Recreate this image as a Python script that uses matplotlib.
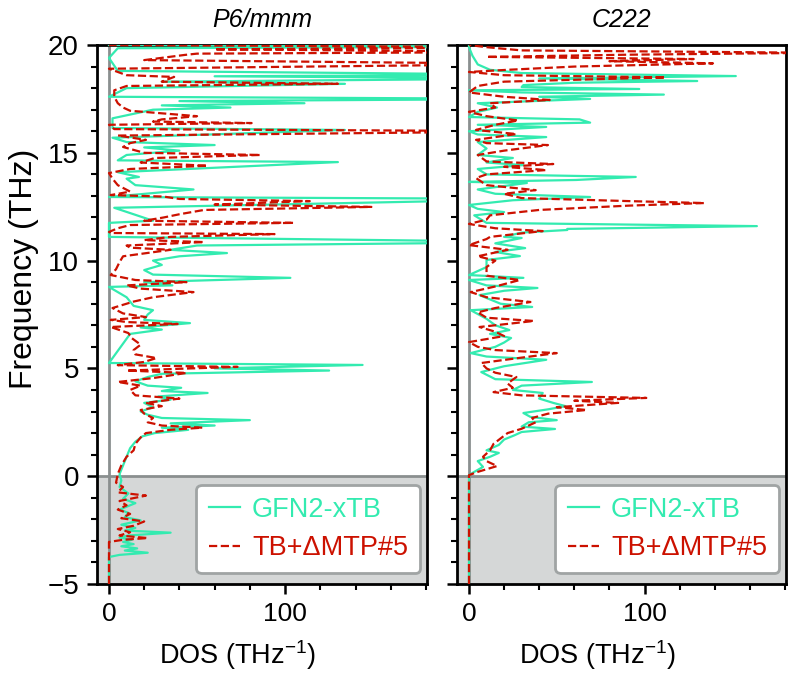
import matplotlib
matplotlib.use("Agg")
import matplotlib.pyplot as plt
from matplotlib.ticker import MultipleLocator

plt.rcParams['font.family'] = ['Liberation Sans', 'DejaVu Sans']
plt.rcParams['mathtext.default'] = 'regular'

titles = ["P6/mmm", "C222"]
series_names = ["GFN2-xTB", "TB+ΔMTP#5"]

# ---- P6/mmm : GFN2-xTB ----
p6_gfn_freq = [-5.0, -3.75, -3.65, -3.55, -3.45, -3.35, -3.25, -3.15, -3.05, -2.95, -2.85, -2.75, -2.62, -2.52, -2.4,
               -2.25, -2.05, -1.9, -1.7, -1.55, -1.25, -1.05, -0.8, -0.5, -0.2, 0.1, 0.5, 0.9, 1.3, 1.6, 1.85, 2.0,
               2.15, 2.25, 2.35, 2.45, 2.6, 2.7, 2.85, 3.0, 3.2, 3.4, 3.55, 3.7, 3.86, 3.95, 4.1, 4.2, 4.4, 4.6,
               4.75, 4.9, 5.0, 5.16, 5.25, 6.6, 6.8, 6.9, 7.1, 7.25, 7.5, 7.7, 7.9, 8.3, 8.78, 8.85, 9.0, 9.2, 9.35,
               9.56, 9.8, 10.0, 10.2, 10.35, 10.5, 10.7, 10.86, 11.1, 11.75, 11.85, 12.45, 12.86, 12.95, 13.3, 13.5,
               13.8, 13.88, 14.1, 14.57, 14.65, 14.9, 15.1, 15.25, 15.36, 15.5, 15.7, 16.06, 16.15, 16.6, 17.0,
               17.1, 17.2, 17.3, 17.4, 17.5, 17.6, 18.0, 18.2, 18.3, 18.45, 18.55, 18.62, 18.8, 19.4, 19.85,
               19.92, 20.0]
p6_gfn_dos = [0, 0, 6, 22, 9, 16, 7, 14, 8, 13, 6, 11, 35, 9, 15,
              7, 18, 9, 11, 6, 15, 8, 11, 6, 7, 6, 8, 10, 12, 15, 19, 26,
              45, 30, 60, 35, 80, 30, 22, 18, 25, 20, 35, 28, 56, 30, 41, 22, 15, 22,
              30, 125, 60, 144, 0, 12, 30, 18, 46, 20, 22, 25, 14, 10, 0, 36, 20, 103, 25,
              20, 30, 25, 40, 67, 35, 50, 250, 0, 0, 25, 3, 250, 0, 48, 15,
              10, 17, 5, 130, 5, 10, 40, 20, 60, 10, 2, 134, 2, 2, 25,
              69, 30, 111, 40, 250, 0, 10, 134, 30, 250, 60, 250, 5, 0, 5,
              250, 0]

# ---- P6/mmm : TB+dMTP#5 ----
p6_mtp_freq = [-5.0, -3.05, -2.95, -2.87, -2.75, -2.6, -2.45, -2.3, -2.1, -1.95, -1.75, -1.55, -1.35, -1.15, -0.9,
               -0.75, -0.5, -0.3, 0.1, 0.5, 0.9, 1.2, 1.5, 1.8, 2.0, 2.15, 2.25, 2.35, 2.5, 2.7, 2.9, 3.07, 3.25,
               3.4, 3.6, 3.75, 4.0, 4.2, 4.37, 4.55, 4.79, 4.9, 5.07, 5.15, 5.3, 5.48, 5.65, 5.85, 6.1, 6.4, 6.64,
               6.92, 7.06, 7.15, 7.25, 7.38, 7.55, 7.8, 8.1, 8.3, 8.54, 8.7, 8.85, 9.0, 9.1, 9.33, 9.6, 9.93,
               10.2, 10.5, 10.6, 10.7, 10.86, 10.95, 11.1, 11.23, 11.28, 11.33, 11.5, 11.65, 11.75, 11.85, 12.0,
               12.15, 12.35, 12.49, 12.6, 12.76, 12.86, 12.97, 13.04, 13.2, 13.5, 13.8, 14.06, 14.25, 14.4, 14.55,
               14.76, 14.9, 15.0, 15.27, 15.45, 15.6, 15.8, 16.0, 16.1, 16.3, 16.38, 16.45, 16.55, 16.7, 16.8,
               16.95, 17.1, 17.3, 17.6, 17.9, 18.1, 18.2, 18.3, 18.52, 18.6, 18.9, 19.12, 19.3, 19.54, 19.6,
               19.68, 19.8, 19.9, 20.0]
p6_mtp_dos = [0, 0, 8, 22, 6, 12, 5, 14, 20, 7, 12, 5, 10, 6, 21,
              5, 8, 4, 5, 7, 10, 14, 15, 18, 21, 35, 53, 30, 22, 25, 20, 18, 30,
              21, 40, 15, 12, 18, 5, 25, 44, 10, 73, 5, 20, 27, 15, 14, 18, 13, 11,
              1, 39, 10, 1, 21, 8, 2, 14, 25, 48, 18, 10, 44, 15, 1, 4, 6,
              8, 35, 12, 10, 54, 20, 35, 94, 1, 0, 5, 12, 105, 20, 31,
              40, 54, 149, 60, 114, 40, 31, 1, 12, 5, 2, 0, 12, 56, 18,
              26, 86, 20, 8, 12, 21, 5, 250, 3, 0, 81, 25, 30, 50, 35,
              12, 8, 5, 3, 3, 10, 130, 30, 37, 10, 0, 250, 20, 43, 50,
              250, 60, 250, 0]

# ---- C222 : GFN2-xTB ----
c222_gfn_freq = [-5.0, 0.05, 0.2, 0.43, 0.7, 0.9, 1.08, 1.2, 1.45, 1.7, 1.9, 2.05, 2.19, 2.3, 2.5, 2.6, 2.75, 2.93,
                 3.1, 3.25, 3.4, 3.6, 3.86, 4.0, 4.2, 4.37, 4.5, 4.83, 5.1, 5.4, 5.55, 5.71, 6.0, 6.2, 6.41, 6.6,
                 6.78, 7.0, 7.3, 7.7, 7.85, 8.0, 8.4, 8.6, 8.73, 8.85, 9.1, 9.2, 9.33, 9.7, 10.03, 10.21, 10.4,
                 10.58, 10.8, 11.05, 11.1, 11.3, 11.42, 11.47, 11.6, 11.75, 12.1, 12.25, 12.4, 12.58, 12.8, 12.95,
                 13.1, 13.3, 13.6, 13.65, 13.74, 13.88, 14.0, 14.25, 14.43, 14.55, 14.76, 14.9, 15.2, 15.5, 15.73,
                 15.85, 16.0, 16.2, 16.3, 16.4, 16.55, 16.66, 16.9, 17.1, 17.3, 17.5, 17.6, 17.7, 17.8, 17.9,
                 17.96, 18.05, 18.14, 18.25, 18.33, 18.45, 18.56, 18.7, 18.85, 19.1, 19.5, 19.9, 20.0]
c222_gfn_dos = [0, 0, 3, 8, 5, 12, 17, 10, 17, 20, 26, 30, 49, 30, 34, 50, 35, 31,
                45, 55, 48, 40, 42, 25, 30, 70, 15, 7, 20, 44, 10, 1, 15, 20, 24, 12,
                23, 15, 10, 1, 36, 18, 6, 20, 39, 10, 0, 31, 0, 10, 10, 29, 15,
                32, 15, 30, 20, 30, 56, 56, 164, 10, 3, 20, 5, 0, 25, 69,
                15, 5, 33, 0, 61, 95, 10, 5, 31, 10, 25, 5, 10, 5, 44,
                5, 0, 44, 5, 69, 63, 0, 5, 16, 5, 69, 40, 111, 30, 0,
                97, 30, 31, 60, 130, 40, 152, 30, 12, 5, 2, 0, 0]

# ---- C222 : TB+dMTP#5 ----
c222_mtp_freq = [-5.0, 0.05, 0.2, 0.47, 0.7, 0.9, 1.2, 1.5, 1.75, 2.0, 2.2, 2.5, 2.7, 2.9, 3.07, 3.2, 3.4, 3.5,
                 3.63, 3.75, 3.9, 4.1, 4.3, 4.6, 4.8, 5.0, 5.25, 5.5, 5.71, 5.85, 6.0, 6.22, 6.5, 6.7, 6.92, 7.2,
                 7.35, 7.6, 7.8, 8.08, 8.3, 8.54, 8.8, 9.1, 9.3, 9.7, 10.0, 10.2, 10.5, 10.72, 11.0, 11.1, 11.37,
                 11.5, 11.7, 11.9, 12.1, 12.35, 12.55, 12.67, 12.76, 12.9, 13.1, 13.27, 13.5, 13.83, 14.0, 14.2,
                 14.35, 14.48, 14.6, 14.9, 15.1, 15.36, 15.45, 15.6, 15.87, 16.06, 16.3, 16.5, 16.7, 16.9, 17.1,
                 17.3, 17.45, 17.6, 17.8, 18.1, 18.3, 18.5, 18.6, 18.75, 18.85, 19.0, 19.15, 19.25, 19.35, 19.45,
                 19.55, 19.64, 19.75, 19.9, 20.0]
c222_mtp_dos = [0, 0, 5, 16, 10, 8, 12, 14, 18, 22, 30, 38, 36, 45, 67, 50, 85, 60,
                101, 30, 14, 25, 22, 27, 15, 10, 7, 30, 50, 15, 5, 0, 20, 15, 6, 37,
                10, 5, 15, 35, 10, 1, 15, 29, 10, 10, 15, 5, 22, 0, 10, 12, 42,
                15, 0, 10, 12, 40, 91, 134, 91, 30, 20, 38, 10, 4, 10, 44,
                20, 48, 10, 5, 20, 45, 10, 4, 27, 4, 15, 28, 10, 0, 15,
                12, 46, 20, 0, 5, 20, 112, 20, 0, 22, 60, 139, 80, 128, 10,
                90, 200, 30, 10, 0]

panels = [
    (p6_gfn_freq, p6_gfn_dos, p6_mtp_freq, p6_mtp_dos),
    (c222_gfn_freq, c222_gfn_dos, c222_mtp_freq, c222_mtp_dos),
]

green = '#33ebb0'
red = '#cc1100'

fig = plt.figure(figsize=(7.88, 6.8), dpi=100)
ax_pos = [[0.1231, 0.1412, 0.4188, 0.7926], [0.5800, 0.1412, 0.4175, 0.7926]]

for i, (gf, gd, mf, md) in enumerate(panels):
    ax = fig.add_axes(ax_pos[i])
    ax.axhspan(-5, 0, color='#d5d7d7', zorder=0, lw=0)
    ax.axhline(0, color='#8a8f8f', lw=2, zorder=1)
    ax.axvline(0, color='#8a8f8f', lw=2, zorder=1)
    ax.plot(gd, gf, color=green, lw=1.6, label=series_names[0], zorder=3)
    ax.plot(md, mf, color=red, lw=1.6, ls='--', label=series_names[1], zorder=4)
    ax.set_xlim(-6.8, 180.6)
    ax.set_ylim(-5, 20)
    ax.xaxis.set_major_locator(MultipleLocator(100))
    ax.xaxis.set_minor_locator(MultipleLocator(20))
    ax.yaxis.set_major_locator(MultipleLocator(5))
    ax.yaxis.set_minor_locator(MultipleLocator(1))
    ax.tick_params(which='major', direction='out', length=7, width=1.8,
                   top=False, right=False, pad=6)
    ax.tick_params(axis='x', which='major', labelsize=19)
    ax.tick_params(axis='y', which='major', labelsize=20)
    ax.tick_params(which='minor', direction='out', length=4, width=1.5, top=False, right=False)
    for s in ax.spines.values():
        s.set_linewidth(2)
    ax.set_title(titles[i], fontsize=18, style='italic', pad=13)
    ax.set_xlabel('DOS (THz$^{-1}$)', fontsize=19.5)
    ax.xaxis.set_label_coords(0.427, -0.1)
    if i == 0:
        ax.set_ylabel('Frequency (THz)', fontsize=23)
        ax.yaxis.set_label_coords(-0.175, 0.585)
    else:
        ax.set_yticklabels([])
    leg = ax.legend(loc='lower right', fontsize=19.5, frameon=True, fancybox=True,
                    handlelength=1.15, handletextpad=0.45, borderpad=0.45, labelspacing=0.45,
                    borderaxespad=0.0, bbox_to_anchor=(0.979, 0.02))
    leg.get_frame().set_edgecolor('#a0a4a4')
    leg.get_frame().set_linewidth(2)
    leg.get_frame().set_alpha(1)
    for t, c in zip(leg.get_texts(), [green, red]):
        t.set_color(c)

fig.savefig('out.png', dpi=100)
